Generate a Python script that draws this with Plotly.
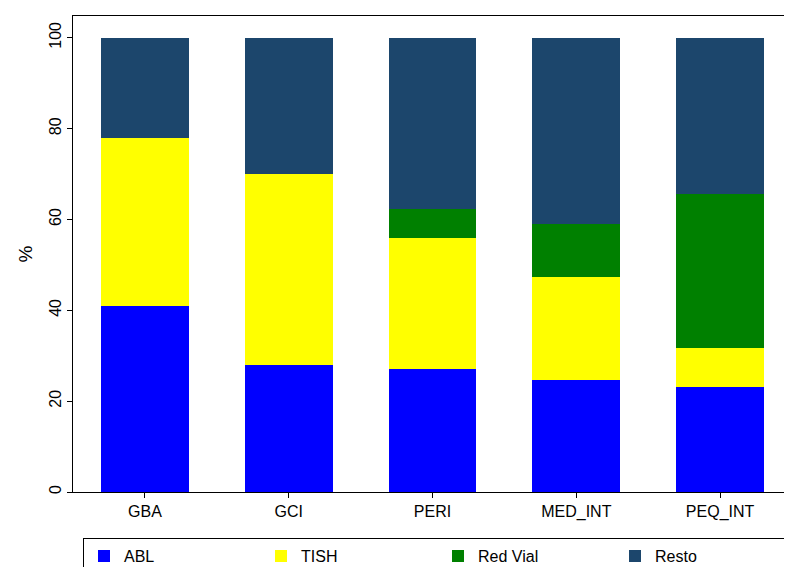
import plotly.graph_objects as go

categories = ["GBA", "GCI", "PERI", "MED_INT", "PEQ_INT"]
abl = [41.0, 28.0, 27.0, 24.7, 23.1]
tish = [36.9, 42.0, 29.0, 22.7, 8.6]
red_vial = [0.0, 0.0, 6.3, 11.6, 34.0]
resto = [22.1, 30.0, 37.7, 41.0, 34.3]

series = [("ABL", abl, "#0000FF"), ("TISH", tish, "#FFFF00"),
          ("Red Vial", red_vial, "#008000"), ("Resto", resto, "#1C466C")]

fig = go.Figure()
for name, vals, col in series:
    fig.add_trace(go.Bar(x=categories, y=vals, name=name, marker_color=col,
                         marker_line_width=0))

fig.update_layout(
    barmode="stack", bargap=0.39, width=792, height=567,
    paper_bgcolor="white", plot_bgcolor="white",
    font=dict(family="Liberation Sans, Arial", size=16, color="black"),
    margin=dict(l=65, r=8, t=8, b=83, autoexpand=False),
    legend=dict(orientation="h", x=75/792, xref="container", y=0.065, yref="container",
                xanchor="left", yanchor="top",
                traceorder="normal", bordercolor="black", borderwidth=1,
                entrywidth=132, font=dict(size=16)),
    xaxis=dict(showline=True, linecolor="black", mirror=True, ticks="outside",
               ticklen=5, tickcolor="black"),
    yaxis=dict(range=[0, 104.8], tickvals=[0, 20, 40, 60, 80, 100], tickangle=-90,
               showline=True, linecolor="black", mirror=True, ticks="outside",
               ticklen=5, tickcolor="black", showgrid=False, zeroline=False,
               title=dict(text="%", standoff=8)),
)
fig.write_html("out.html")
